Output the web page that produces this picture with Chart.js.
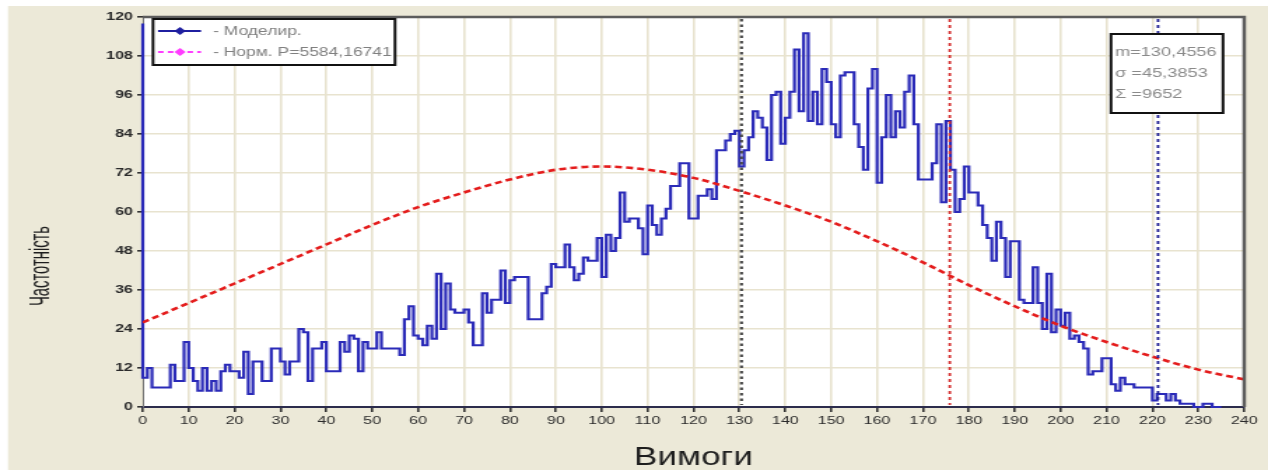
<!DOCTYPE html>
<html>
<head>
<meta charset="utf-8">
<script src="https://cdn.jsdelivr.net/npm/chart.js@4.4.1/dist/chart.umd.min.js"></script>
<style>
  html, body { margin: 0; padding: 0; background: #ffffff; }
  canvas { display: block; }
</style>
</head>
<body>
<canvas id="chart" width="906" height="470" style="width:1268px;height:470px"></canvas>
<script>
// Canvas is drawn at 906 px wide and shown 1268 px wide (horizontal stretch).
const PAGE_STRETCH = 1268 / 906;
const px = v => v / PAGE_STRETCH; // page pixels -> canvas pixels (horizontal)

// Simulated frequency of each demand level (value at demand i covers [i-1, i]).
const freq = [118,
  9, 12, 6, 6, 6, 6, 13, 8, 8, 20, 12, 8, 5, 12, 5, 8, 5, 11, 13, 11,
  11, 9, 17, 4, 14, 14, 8, 8, 18, 18, 14, 10, 14, 14, 24, 23, 8, 18, 18, 20,
  11, 11, 11, 20, 17, 22, 21, 11, 20, 18, 18, 23, 18, 18, 18, 18, 16, 27, 31, 22,
  21, 19, 25, 21, 41, 24, 38, 30, 29, 29, 30, 26, 19, 19, 35, 29, 33, 33, 42, 32,
  39, 40, 40, 40, 27, 27, 27, 35, 37, 44, 43, 43, 50, 43, 39, 41, 46, 45, 45, 52,
  40, 53, 48, 52, 66, 57, 58, 58, 55, 47, 62, 56, 53, 58, 61, 68, 68, 75, 75, 58,
  58, 65, 65, 67, 64, 79, 79, 82, 84, 85, 74, 79, 83, 91, 89, 86, 76, 96, 97, 81,
  89, 97, 110, 91, 115, 88, 97, 87, 104, 100, 87, 83, 102, 103, 103, 87, 80, 73, 98, 104,
  69, 83, 96, 83, 91, 86, 97, 102, 87, 70, 70, 70, 75, 87, 63, 88, 73, 60, 64, 74,
  66, 66, 62, 56, 52, 45, 57, 52, 40, 51, 51, 33, 32, 32, 43, 32, 24, 41, 23, 30,
  25, 29, 21, 22, 20, 18, 10, 11, 11, 15, 15, 7, 5, 9, 7, 7, 6, 6, 6, 6,
  2, 4, 4, 2, 4, 2, 1, 1, 1, 0, 0, 1, 1, 0, 0
];
const demand = freq.map((_, i) => i);

// Fitted normal curve, sampled every 10 demand units.
const normX = [0, 10, 20, 30, 40, 50, 60, 70, 80, 90, 100, 110, 120,
               130, 140, 150, 160, 170, 180, 190, 200, 210, 220, 230, 240];
const normY = [26, 32, 38, 44, 50, 56, 61.5, 66, 70, 73, 74, 73, 70.5,
               66.5, 62, 57, 51, 44.5, 37.5, 31, 25, 20, 15.5, 11.5, 8.5];

// Axis ticks.
const xTicks = [0, 10, 20, 30, 40, 50, 60, 70, 80, 90, 100, 110, 120,
                130, 140, 150, 160, 170, 180, 190, 200, 210, 220, 230, 240];
const yTicks = [0, 12, 24, 36, 48, 60, 72, 84, 96, 108, 120];

// Summary statistics.
const meanDemand = 130.4556;
const sigmaDemand = 45.3853;
const totalCount = 9652;
const markerLines = [
  { value: meanDemand, color: '#4a4a4a', width: 2.2, dash: [2.5, 3] },
  { value: meanDemand + sigmaDemand, color: '#d42a2a', width: 1.8, dash: [3, 3] },
  { value: meanDemand + 2 * sigmaDemand, color: '#1a1a90', width: 1.8, dash: [3, 3] }
];

const seriesLabels = ['- Моделир.', '- Норм. Р=5584,16741'];
const xTitle = 'Вимоги';
const yTitle = 'Частотність';

const FONT = "'Liberation Sans', Arial, sans-serif";
const comma = (v, d) => v.toFixed(d).replace('.', ',');

function diamond(ctx, x, y, r, color) {
  ctx.beginPath();
  ctx.moveTo(x, y - r); ctx.lineTo(x + r, y); ctx.lineTo(x, y + r); ctx.lineTo(x - r, y);
  ctx.closePath();
  ctx.fillStyle = color;
  ctx.fill();
}

const chartDecor = {
  id: 'chartDecor',
  beforeDraw(chart) {
    const { ctx, chartArea: a, width, height } = chart;
    ctx.save();
    ctx.fillStyle = '#ffffff';
    ctx.fillRect(0, 0, width, height);
    ctx.fillStyle = '#ece9d8';
    ctx.fillRect(px(8), 6, width, height);
    ctx.fillStyle = '#ffffff';
    ctx.fillRect(a.left, a.top, a.right - a.left, a.bottom - a.top);
    ctx.restore();
  },
  afterDraw(chart) {
    const { ctx, chartArea: a, scales } = chart;
    const xs = scales.x;
    ctx.save();

    // dotted reference lines: mean, mean + sigma, mean + 2 sigma
    markerLines.forEach(m => {
      const x = xs.getPixelForValue(m.value);
      ctx.beginPath();
      ctx.setLineDash(m.dash);
      ctx.strokeStyle = m.color;
      ctx.lineWidth = m.width;
      ctx.moveTo(x, a.top + 2);
      ctx.lineTo(x, a.bottom - 2);
      ctx.stroke();
    });
    ctx.setLineDash([]);

    // plot frame, top and right sides
    ctx.strokeStyle = '#5c5c5c';
    ctx.lineWidth = 2.5;
    ctx.beginPath();
    ctx.moveTo(a.left, a.top);
    ctx.lineTo(a.right, a.top);
    ctx.lineTo(a.right, a.bottom);
    ctx.stroke();

    // legend box
    const lx0 = px(153), lx1 = px(395), ly0 = 19, ly1 = 65;
    ctx.fillStyle = '#ffffff';
    ctx.fillRect(lx0, ly0, lx1 - lx0, ly1 - ly0);
    ctx.strokeStyle = '#111111';
    ctx.lineWidth = 2;
    ctx.strokeRect(lx0, ly0, lx1 - lx0, ly1 - ly0);

    const rowY = [31, 52];
    // row 1: solid blue with marker
    ctx.strokeStyle = '#1f1fa0';
    ctx.lineWidth = 2;
    ctx.beginPath(); ctx.moveTo(px(158), rowY[0]); ctx.lineTo(px(201), rowY[0]); ctx.stroke();
    diamond(ctx, px(180), rowY[0], 4, '#1f1fa0');
    // row 2: dashed magenta with marker
    ctx.strokeStyle = '#ff3cff';
    ctx.setLineDash([4, 3]);
    ctx.beginPath(); ctx.moveTo(px(158), rowY[1]); ctx.lineTo(px(201), rowY[1]); ctx.stroke();
    ctx.setLineDash([]);
    diamond(ctx, px(180), rowY[1], 4, '#ff3cff');

    ctx.font = `12.5px ${FONT}`;
    ctx.fillStyle = '#808080';
    ctx.textBaseline = 'middle';
    ctx.textAlign = 'left';
    seriesLabels.forEach((t, i) => ctx.fillText(t, px(213), rowY[i] + 1));

    // statistics box
    const sx0 = px(1111), sx1 = px(1223), sy0 = 34, sy1 = 113;
    ctx.fillStyle = '#ffffff';
    ctx.fillRect(sx0, sy0, sx1 - sx0, sy1 - sy0);
    ctx.strokeStyle = '#111111';
    ctx.lineWidth = 2;
    ctx.strokeRect(sx0, sy0, sx1 - sx0, sy1 - sy0);
    ctx.font = `13px ${FONT}`;
    ctx.fillStyle = '#8a8a8a';
    const stats = ['m=' + comma(meanDemand, 4), 'σ =' + comma(sigmaDemand, 4), 'Σ =' + totalCount];
    stats.forEach((t, i) => ctx.fillText(t, px(1115), 52 + i * 21));

    // axis titles
    ctx.fillStyle = '#1e1e1e';
    ctx.textAlign = 'center';
    ctx.textBaseline = 'alphabetic';
    ctx.font = `25px ${FONT}`;
    ctx.fillText(xTitle, (a.left + a.right) / 2, 465);

    // vertical title, condensed along its reading direction
    ctx.save();
    ctx.translate(px(49), 266);
    ctx.rotate(-Math.PI / 2);
    ctx.scale(0.74, 1);
    ctx.font = `20px ${FONT}`;
    ctx.fillText(yTitle, 0, 0);
    ctx.restore();

    ctx.restore();
  }
};

new Chart(document.getElementById('chart'), {
  type: 'line',
  data: {
    datasets: [
      {
        label: seriesLabels[1],
        data: normX.map((x, i) => ({ x, y: normY[i] })),
        borderColor: '#e41c1c',
        borderWidth: 2.6,
        borderDash: [5, 3],
        pointRadius: 0,
        tension: 0.4,
        cubicInterpolationMode: 'monotone',
        fill: false,
        order: 1
      },
      {
        label: seriesLabels[0],
        data: demand.map((x, i) => ({ x, y: freq[i] })),
        stepped: 'after',
        borderColor: '#2a2ab8',
        borderWidth: 2.2,
        pointRadius: 0,
        fill: false,
        clip: 4,
        order: 2
      }
    ]
  },
  options: {
    responsive: false,
    animation: false,
    devicePixelRatio: 1,
    layout: { padding: { left: 5, right: 17, top: 17, bottom: 0 } },
    plugins: { legend: { display: false }, tooltip: { enabled: false } },
    scales: {
      x: {
        type: 'linear',
        min: 0,
        max: 240,
        afterBuildTicks: s => { s.ticks = xTicks.map(v => ({ value: v })); },
        afterFit: s => { s.height = 63; },
        ticks: {
          autoSkip: false, maxRotation: 0, padding: 2,
          color: '#2b2b2b',
          font: { family: FONT, size: 11.5 }
        },
        grid: { color: '#e8e3cf', lineWidth: 1.6, tickLength: 5, tickColor: '#333333' },
        border: { display: true, color: '#2c2c4c', width: 2 }
      },
      y: {
        min: 0,
        max: 120,
        afterBuildTicks: s => { s.ticks = yTicks.map(v => ({ value: v })); },
        afterFit: s => { s.width = 97; },
        ticks: {
          padding: 3,
          color: '#2b2b2b',
          font: { family: FONT, size: 11.5, weight: 'bold' }
        },
        grid: { color: '#e8e3cf', lineWidth: 1.6, tickLength: 4, tickColor: '#333333' },
        border: { display: true, color: '#777777', width: 1 }
      }
    }
  },
  plugins: [chartDecor]
});
</script>
</body>
</html>
